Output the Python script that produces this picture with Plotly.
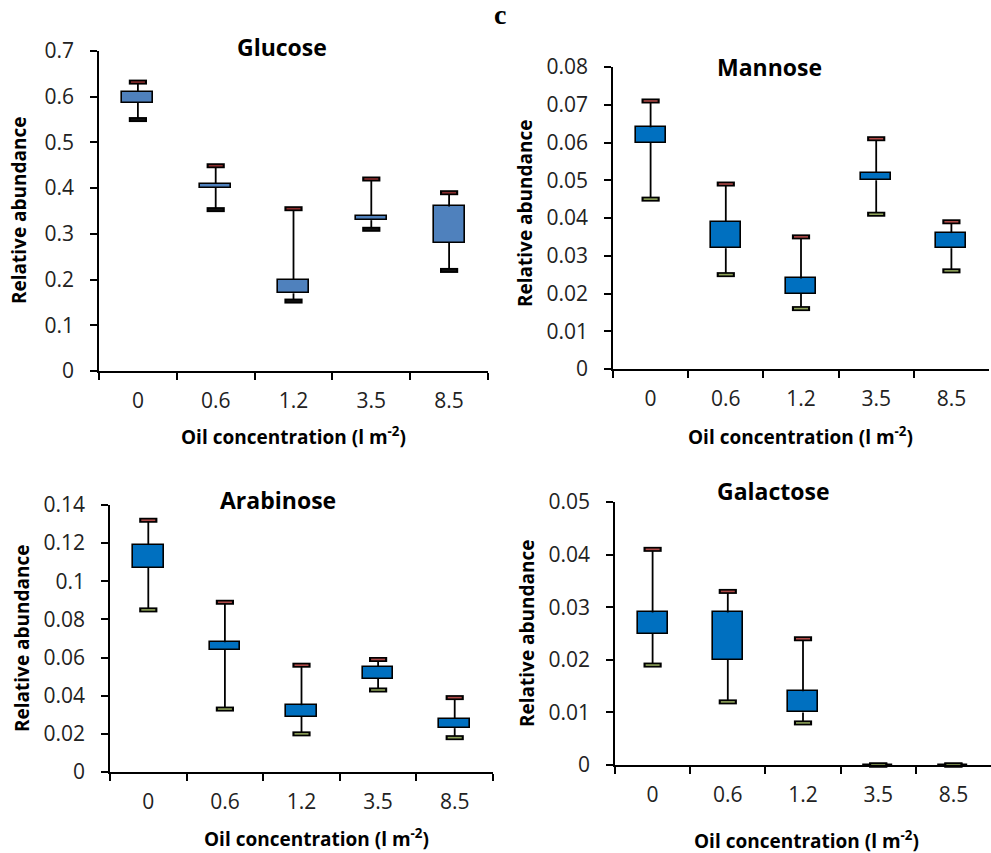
import plotly.graph_objects as go

categories = ["0", "0.6", "1.2", "3.5", "8.5"]

glucose_low = [0.550, 0.353, 0.153, 0.310, 0.220]
glucose_q1 = [0.587, 0.401, 0.170, 0.330, 0.280]
glucose_q3 = [0.611, 0.410, 0.199, 0.339, 0.360]
glucose_high = [0.632, 0.449, 0.355, 0.420, 0.390]

mannose_low = [0.045, 0.025, 0.016, 0.041, 0.026]
mannose_q1 = [0.060, 0.032, 0.020, 0.050, 0.032]
mannose_q3 = [0.064, 0.039, 0.024, 0.052, 0.036]
mannose_high = [0.071, 0.049, 0.035, 0.061, 0.039]

arabinose_low = [0.085, 0.033, 0.020, 0.043, 0.018]
arabinose_q1 = [0.107, 0.064, 0.029, 0.049, 0.023]
arabinose_q3 = [0.119, 0.068, 0.035, 0.055, 0.028]
arabinose_high = [0.132, 0.089, 0.056, 0.059, 0.039]

galactose_low = [0.019, 0.012, 0.008, 0.0, 0.0]
galactose_q1 = [0.025, 0.020, 0.010, 0.0, 0.0]
galactose_q3 = [0.029, 0.029, 0.014, 0.0, 0.0]
galactose_high = [0.041, 0.033, 0.024, 0.0, 0.0]

titles = ["Glucose", "Mannose", "Arabinose", "Galactose"]
y_max = [0.7, 0.08, 0.14, 0.05]
y_dtick = [0.1, 0.01, 0.02, 0.01]

W, H = 991, 853

def pxx(x):
    return x / W

def pyy(y):
    return 1 - y / H

panels = [
    dict(low=glucose_low, q1=glucose_q1, q3=glucose_q3, high=glucose_high,
         fill="#4F81BD", topcap="#8B2E2E", lowcap="#111111",
         xdom=(99, 488), ydom=(51, 371)),
    dict(low=mannose_low, q1=mannose_q1, q3=mannose_q3, high=mannose_high,
         fill="#0070C0", topcap="#B04A48", lowcap="#8FA35A",
         xdom=(613, 989), ydom=(67, 369)),
    dict(low=arabinose_low, q1=arabinose_q1, q3=arabinose_q3, high=arabinose_high,
         fill="#0070C0", topcap="#B04A48", lowcap="#8FA35A",
         xdom=(110, 493), ydom=(505, 772)),
    dict(low=galactose_low, q1=galactose_q1, q3=galactose_q3, high=galactose_high,
         fill="#0070C0", topcap="#B04A48", lowcap="#8FA35A",
         xdom=(615, 991), ydom=(502, 765)),
]

title_pos = [(282, 47), (769, 67), (278, 500), (773, 491)]
xtitle_pos = [(293, 436), (800, 436), (316, 838), (806, 840)]
ytitle_pos = [(19, 210), (525, 213), (22, 638), (527, 633)]

FONT = "Open Sans"
fig = go.Figure()
layout = {}
annotations = []

for i, p in enumerate(panels):
    s = "" if i == 0 else str(i + 1)
    xa, ya = "x" + s, "y" + s
    # whiskers
    wx, wy = [], []
    for c, lo, a, b, hi in zip(categories, p["low"], p["q1"], p["q3"], p["high"]):
        wx += [c, c, None, c, c, None]
        wy += [b, hi, None, lo, a, None]
    fig.add_trace(go.Scatter(x=wx, y=wy, mode="lines",
                             line=dict(color="black", width=1.8),
                             xaxis=xa, yaxis=ya, showlegend=False, hoverinfo="skip"))
    # boxes
    fig.add_trace(go.Bar(x=categories, y=[b - a for a, b in zip(p["q1"], p["q3"])],
                         base=p["q1"], width=0.4,
                         marker=dict(color=p["fill"], line=dict(color="black", width=1.6)),
                         xaxis=xa, yaxis=ya, showlegend=False))
    # caps
    for vals, col in ((p["high"], p["topcap"]), (p["low"], p["lowcap"])):
        fig.add_trace(go.Scatter(x=categories, y=vals, mode="markers",
                                 marker=dict(symbol="line-ew", size=13,
                                             line=dict(color="black", width=5)),
                                 xaxis=xa, yaxis=ya, showlegend=False, hoverinfo="skip",
                                 cliponaxis=False))
        fig.add_trace(go.Scatter(x=categories, y=vals, mode="markers",
                                 marker=dict(symbol="line-ew", size=10,
                                             line=dict(color=col, width=1.6)),
                                 xaxis=xa, yaxis=ya, showlegend=False, hoverinfo="skip",
                                 cliponaxis=False))
    x0, x1 = p["xdom"]
    y0, y1 = p["ydom"]
    layout["xaxis" + s] = dict(
        domain=[pxx(x0), min(1.0, pxx(x1))], anchor=ya, type="category",
        range=[-0.5, 4.5], tickson="boundaries", ticks="outside", ticklen=7,
        tickcolor="black", tickwidth=1.5, showline=True, linecolor="black",
        linewidth=1.5, showgrid=False, zeroline=False, ticklabelstandoff=10,
        tickfont=dict(family=FONT, size=21, color="#222222"))
    layout["yaxis" + s] = dict(
        domain=[pyy(y1), pyy(y0)], anchor=xa, range=[0, y_max[i]],
        dtick=y_dtick[i], tick0=0, ticks="outside", ticklen=7, tickcolor="black",
        tickwidth=1.5, showline=True, linecolor="black", linewidth=1.5,
        showgrid=False, zeroline=False, ticklabelstandoff=12,
        tickfont=dict(family=FONT, size=21, color="#222222"))
    tx, ty = title_pos[i]
    annotations.append(dict(text="<b>" + titles[i] + "</b>", x=pxx(tx), y=pyy(ty),
                            xref="paper", yref="paper", showarrow=False,
                            xanchor="center", yanchor="middle",
                            font=dict(family=FONT, size=23, color="black")))
    ax, ay = xtitle_pos[i]
    annotations.append(dict(text="<b>Oil concentration (l m<sup>-2</sup>)</b>",
                            x=pxx(ax), y=pyy(ay), xref="paper", yref="paper",
                            showarrow=False, xanchor="center", yanchor="middle",
                            font=dict(family=FONT, size=19, color="black")))
    yx, yy = ytitle_pos[i]
    annotations.append(dict(text="<b>Relative abundance</b>", x=pxx(yx), y=pyy(yy),
                            xref="paper", yref="paper", showarrow=False, textangle=-90,
                            xanchor="center", yanchor="middle",
                            font=dict(family=FONT, size=19, color="black")))

annotations.append(dict(text="<b>c</b>", x=pxx(500), y=pyy(15), xref="paper", yref="paper",
                        showarrow=False, xanchor="center", yanchor="middle",
                        font=dict(family="Liberation Serif", size=28, color="black")))

fig.update_layout(width=W, height=H,
                  margin=dict(l=0, r=0, t=0, b=0, autoexpand=False),
                  paper_bgcolor="white", plot_bgcolor="white",
                  annotations=annotations, bargap=0, **layout)

fig.write_html("out.html")
